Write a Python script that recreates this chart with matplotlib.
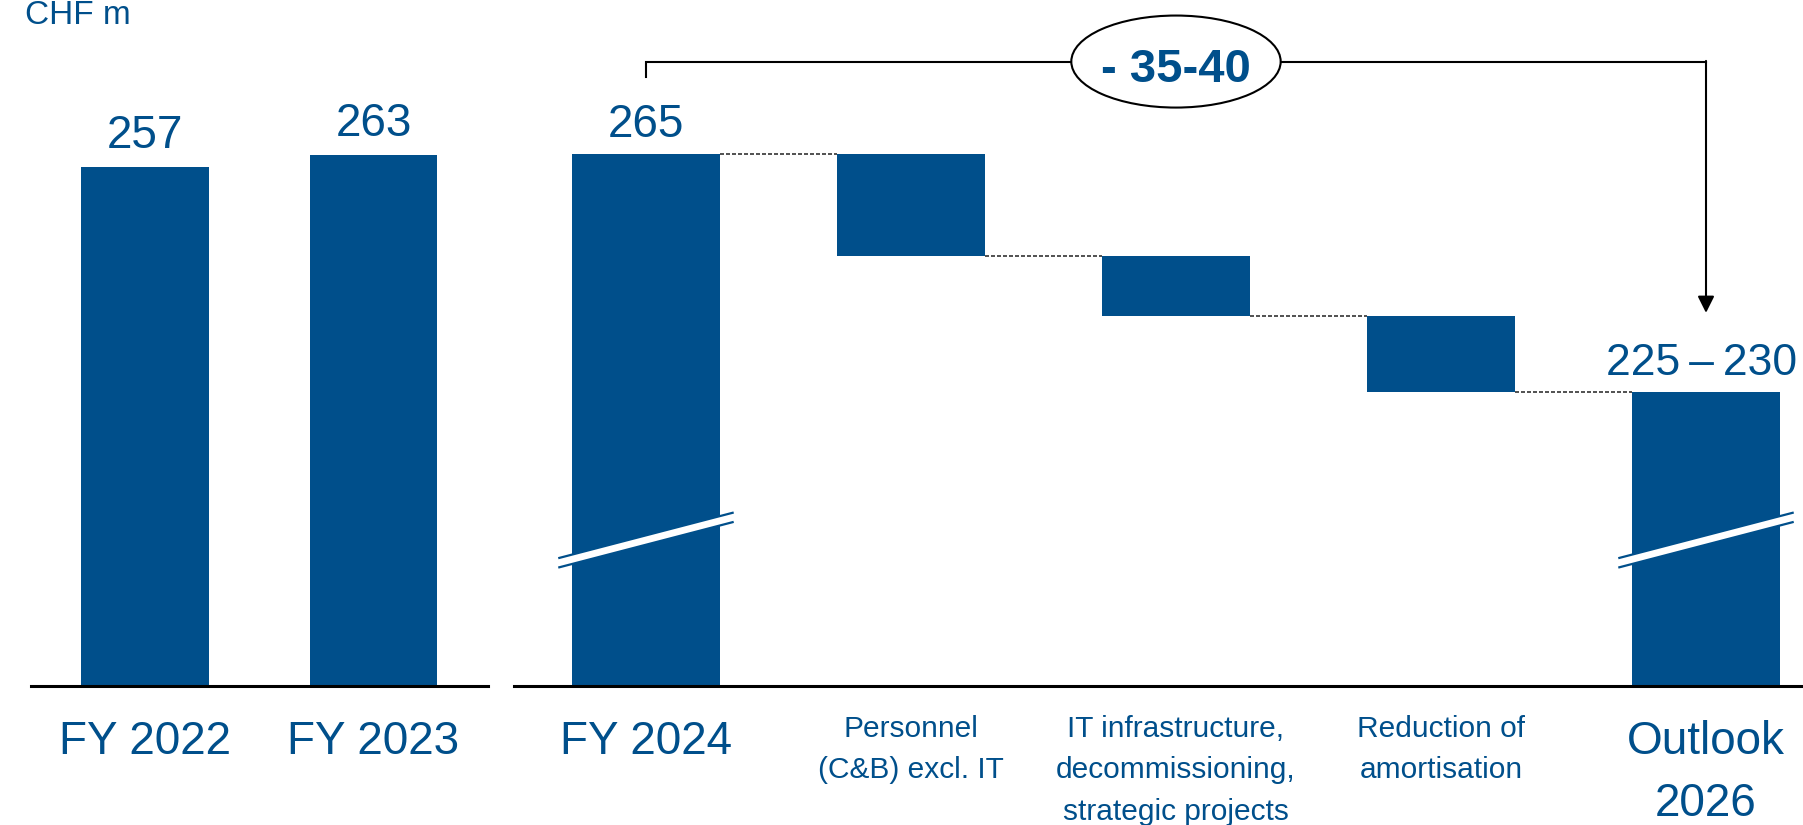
import matplotlib.pyplot as plt
import matplotlib.transforms as mtransforms
from matplotlib.patches import Ellipse, Polygon

plt.rcParams['font.family'] = ['Liberation Sans', 'DejaVu Sans']

# ---- data (CHF m) ----
hist_years = ["FY 2022", "FY 2023"]
hist_values = [257, 263]

wf_start = 265
wf_steps = [-16.0, -9.5, -12.0]          # personnel, IT, amortisation
outlook_label = "225\u2009\u2013\u2009230"
total_label = "- 35-40"
wf_labels = [
    ["FY 2024"],
    ["Personnel", "(C&B) excl. IT"],
    ["IT infrastructure,", "decommissioning,", "strategic projects"],
    ["Reduction of", "amortisation"],
    ["Outlook", "2026"],
]

BLUE = "#004f8b"
W, H = 1803, 825
bar_w = 0.556

fig = plt.figure(figsize=(W / 100, H / 100), dpi=100)


def row(px):
    # pixel row from the top -> figure fraction
    return 1 - px / H


ax_l = fig.add_axes([31 / W, row(686), (487.6 - 31) / W, 686 / H])
ax_r = fig.add_axes([514 / W, row(686), (W - 514) / W, 686 / H])

for ax in (ax_l, ax_r):
    for s in ("left", "right", "top"):
        ax.spines[s].set_visible(False)
    ax.spines["bottom"].set_linewidth(2.2)
    ax.spines["bottom"].set_zorder(5)
    ax.set_xticks([])
    ax.set_yticks([])
    ax.patch.set_alpha(0)

# ---- left panel: history ----
ax_l.set_xlim(-0.5, 1.5)
ax_l.set_ylim(0, 339.6)
xs = list(range(len(hist_values)))
ax_l.bar(xs, hist_values, width=bar_w + 0.002, color=BLUE)
for x, v in zip(xs, hist_values):
    ax_l.annotate(str(v), (x, v), xytext=(0, 13.5), textcoords="offset points",
                  ha="center", va="baseline", fontsize=33, color=BLUE)

tl = mtransforms.blended_transform_factory(ax_l.transData, fig.transFigure)
for x, lab in zip(xs, hist_years):
    ax_l.text(x, row(754), lab, transform=tl, ha="center", va="baseline",
              fontsize=33, color=BLUE)

fig.text(25 / W, row(24), "CHF m", ha="left", va="baseline", fontsize=24, color=BLUE)

# ---- right panel: waterfall with broken axis ----
base = 181.2
ax_r.set_xlim(-0.498, 4.366)
ax_r.set_ylim(base, 289.3)

levels = [wf_start]
for s in wf_steps:
    levels.append(levels[-1] + s)
end_val = levels[-1]

# totals
ax_r.bar([0, 4], [wf_start - base, end_val - base], bottom=base, width=bar_w, color=BLUE)
# steps
for i, s in enumerate(wf_steps):
    ax_r.bar(i + 1, -s, bottom=levels[i + 1], width=bar_w, color=BLUE)

# dashed connectors
for i, lvl in enumerate(levels):
    ax_r.plot([i + bar_w / 2, i + 1 - bar_w / 2], [lvl, lvl], color="#333333",
              lw=1.2, dashes=(2.4, 1.2), zorder=3)

# axis-break marks on the two total bars
ext = 0.053
half = 0.74
for x in (0, 4):
    xl, xr = x - bar_w / 2 - ext, x + bar_w / 2 + ext
    yl, yr = 200.6, 207.8
    ax_r.add_patch(Polygon([(xl, yl - half), (xr, yr - half), (xr, yr + half), (xl, yl + half)],
                           closed=True, facecolor="white", edgecolor="none", zorder=4))
    for d in (-half, half):
        ax_r.plot([xl, xr], [yl + d, yr + d], color=BLUE, lw=1.6, zorder=4,
                  solid_capstyle="butt")

# value labels
ax_r.annotate(str(wf_start), (0, wf_start), xytext=(0, 12.2), textcoords="offset points",
              ha="center", va="baseline", fontsize=33, color=BLUE)
ax_r.annotate(outlook_label, (4, end_val), xytext=(-3, 12.2), textcoords="offset points",
              ha="center", va="baseline", fontsize=32, color=BLUE, annotation_clip=False)

# bracket with arrow from FY 2024 to outlook
br_y = 279.6
ax_r.plot([0, 0, 4], [277.1, br_y, br_y], color="black", lw=1.5, zorder=6,
          solid_joinstyle="miter", clip_on=False)
ax_r.annotate("", xy=(4, 240.0), xytext=(4, br_y + 0.1),
              arrowprops=dict(arrowstyle="-|>,head_length=1.0,head_width=0.5",
                              color="black", lw=1.5, shrinkA=0, shrinkB=0),
              zorder=6)
ax_r.add_patch(Ellipse((2, br_y), 0.79, 14.5, facecolor="white", edgecolor="black",
                       lw=1.5, zorder=7, clip_on=False))
ax_r.text(2, br_y - 3.3, total_label, ha="center", va="baseline", fontsize=34,
          fontweight="bold", color=BLUE, zorder=8)

# category labels
tr = mtransforms.blended_transform_factory(ax_r.transData, fig.transFigure)
for i, lines in enumerate(wf_labels):
    if i in (0, 4):
        rows, fs = [754, 816], 33
    else:
        rows, fs = [737, 778, 820], 21.5
    for r, txt in zip(rows, lines):
        ax_r.text(i, row(r), txt, transform=tr, ha="center", va="baseline",
                  fontsize=fs, color=BLUE)

fig.savefig("out.png", dpi=100)
